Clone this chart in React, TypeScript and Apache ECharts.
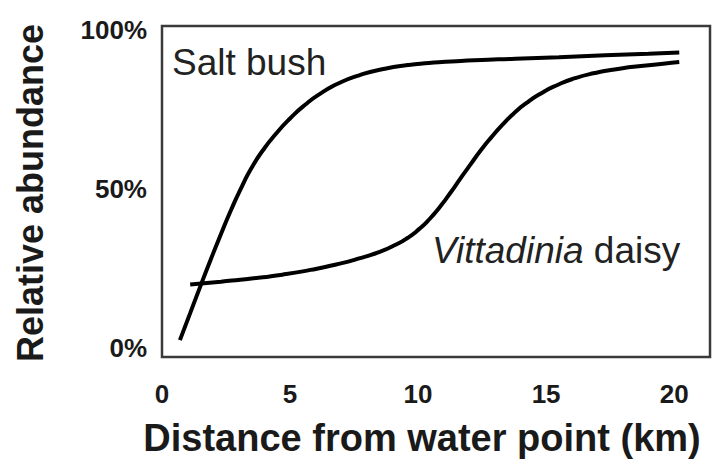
import React, { useEffect, useRef } from "react";
import * as echarts from "echarts";

const saltX = [0.7, 1.1, 1.5, 1.9, 2.3, 2.7, 3.1, 3.5, 3.95, 4.45, 5.0, 5.6, 6.2, 6.9, 7.7, 8.6, 9.6, 10.8, 12.2, 13.8, 15.5, 17.3, 19, 20.2];
const saltY = [2.5, 11, 19.5, 27.8, 35.8, 43.5, 50.5, 56.7, 62.3, 67.4, 72.2, 76.6, 80.1, 83.3, 85.8, 87.7, 89, 89.9, 90.5, 91, 91.5, 92.1, 92.6, 93];
const daisyX = [1.1, 2.3, 3.5, 4.7, 5.8, 6.8, 7.7, 8.5, 9.1, 9.6, 10.05, 10.45, 10.85, 11.25, 11.65, 12.05, 12.45, 12.85, 13.3, 13.75, 14.25, 14.8, 15.4, 16.1, 16.9, 17.8, 18.8, 20.2];
const daisyY = [20, 20.9, 21.9, 23.1, 24.6, 26.3, 28.2, 30.3, 32.4, 34.7, 37.5, 40.6, 44.4, 48.7, 53.3, 57.8, 62.2, 66.2, 70.3, 73.9, 77.2, 80.1, 82.6, 84.8, 86.5, 87.8, 88.8, 90];
const xTicks = [0, 5, 10, 15, 20];
const yTicks = [0, 50, 100];

const FONT = "'Liberation Sans', Arial, sans-serif";

export default function App() {
  const ref = useRef<HTMLDivElement>(null);
  useEffect(() => {
    document.body.style.margin = "0";
    const chart = echarts.init(ref.current!, null, { renderer: "svg" });
    chart.setOption({
      animation: false,
      backgroundColor: "#ffffff",
      grid: {
        left: 162,
        top: 26,
        right: 2,
        bottom: 102,
        show: true,
        borderColor: "#3a3a3a",
        borderWidth: 2.5,
        backgroundColor: "transparent",
      },
      xAxis: {
        type: "value",
        min: 0,
        max: 21.4,
        interval: 5,
        axisLine: { show: false },
        axisTick: { show: false },
        splitLine: { show: false },
        axisLabel: {
          customValues: xTicks,
          margin: 24,
          fontSize: 26,
          fontWeight: "bold",
          fontFamily: FONT,
          color: "#1a1a1a",
        },
      },
      yAxis: {
        type: "value",
        min: -2.8,
        max: 101.3,
        axisLine: { show: false },
        axisTick: { show: false },
        splitLine: { show: false },
        axisLabel: {
          customValues: yTicks,
          formatter: (v: number) => `${v}%`,
          margin: 15,
          fontSize: 26,
          fontWeight: "bold",
          fontFamily: FONT,
          color: "#1a1a1a",
        },
      },
      series: [
        {
          name: "Salt bush",
          type: "line",
          smooth: 0.6,
          symbol: "none",
          lineStyle: { color: "#000", width: 4 },
          data: saltX.map((x, i) => [x, saltY[i]]),
        },
        {
          name: "Vittadinia daisy",
          type: "line",
          smooth: 0.6,
          symbol: "none",
          lineStyle: { color: "#000", width: 4 },
          data: daisyX.map((x, i) => [x, daisyY[i]]),
        },
      ],
      graphic: [
        {
          type: "text",
          x: 172,
          y: 62,
          style: {
            text: "Salt bush",
            font: `37px ${FONT}`,
            fill: "#222",
            textVerticalAlign: "middle",
          },
        },
        {
          type: "text",
          x: 432,
          y: 250,
          style: {
            text: "{i|Vittadinia} daisy",
            font: `37px ${FONT}`,
            fill: "#222",
            textVerticalAlign: "middle",
            rich: {
              i: { fontStyle: "italic", fontSize: 37, fontFamily: FONT, fill: "#222" },
            },
          },
        },
        {
          type: "text",
          x: 30,
          y: 193,
          rotation: Math.PI / 2,
          style: {
            text: "Relative abundance",
            font: `bold 36px ${FONT}`,
            fill: "#1a1a1a",
            textAlign: "center",
            textVerticalAlign: "middle",
          },
        },
        {
          type: "text",
          x: 422,
          y: 438,
          style: {
            text: "Distance from water point (km)",
            font: `bold 38px ${FONT}`,
            fill: "#1a1a1a",
            textAlign: "center",
            textVerticalAlign: "middle",
          },
        },
      ],
    });
    return () => chart.dispose();
  }, []);
  return <div ref={ref} style={{ width: 712, height: 459 }} />;
}
